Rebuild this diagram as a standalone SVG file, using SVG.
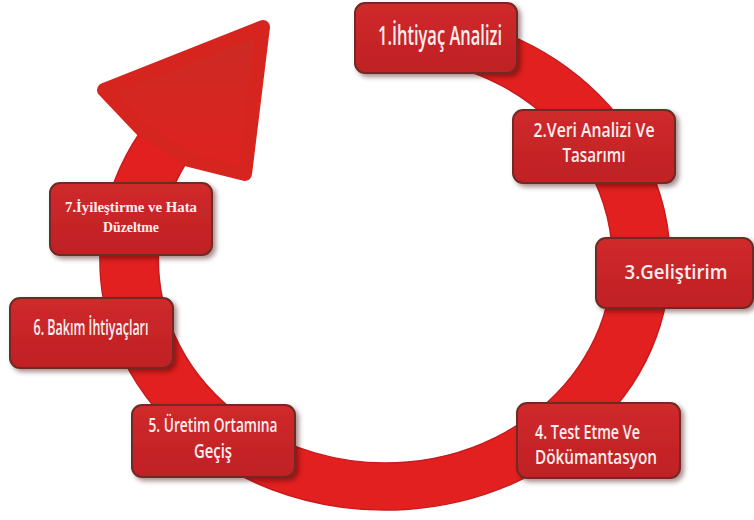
<svg xmlns="http://www.w3.org/2000/svg" width="754" height="520" viewBox="0 0 754 520">
  <defs>
    <linearGradient id="boxFill" x1="0" y1="0" x2="0" y2="1">
      <stop offset="0" stop-color="#d02a2c"/>
      <stop offset="1" stop-color="#bf2024"/>
    </linearGradient>
    <linearGradient id="headFill" x1="0" y1="0" x2="0" y2="1">
      <stop offset="0" stop-color="#cc2b24"/>
      <stop offset="1" stop-color="#df2220"/>
    </linearGradient>
    <filter id="shadow" x="-10%" y="-10%" width="125%" height="135%">
      <feDropShadow dx="3" dy="3" stdDeviation="2.5" flood-color="#3a1010" flood-opacity="0.45"/>
    </filter>
    <style>
      .box { fill: url(#boxFill); stroke: #6f2c25; stroke-width: 2; filter: url(#shadow); }
      .lbl { fill: #fbeeee; font-family: "Open Sans", "Noto Sans", "Liberation Sans", sans-serif; font-weight: 600; text-anchor: middle; }
      .lbl-left { text-anchor: start; }
      .serif { fill: #fbeeee; font-family: "Liberation Serif", "DejaVu Serif", serif; text-anchor: middle; }
      .ring { fill: #e2201f; stroke: #c81b1d; stroke-width: 1.5; }
      .head { fill: url(#headFill); stroke: #d6251f; stroke-width: 14; stroke-linejoin: round; }
    </style>
  </defs>

  <!-- cycle ring with arrowhead -->
  <g id="connectors">
    <path class="ring" d="M 375 10.2 A 285 250 0 1 1 140 132.3 L 186 163 A 227 203 0 1 0 375 57.2 Z"/>
    <polygon class="head" points="141,129 104,90 263,27 245,174 189,160"/>
  </g>

  <g id="step1">
    <rect class="box" x="355" y="3" width="162" height="70" rx="10"/>
    <text class="lbl" x="440" y="45" font-size="27" textLength="124" lengthAdjust="spacingAndGlyphs">1.İhtiyaç Analizi</text>
  </g>

  <g id="step2">
    <rect class="box" x="513" y="110" width="162" height="73" rx="10"/>
    <text class="lbl" x="594" y="137" font-size="19" textLength="121" lengthAdjust="spacingAndGlyphs">2.Veri Analizi Ve</text>
    <text class="lbl" x="594" y="162" font-size="19" textLength="63" lengthAdjust="spacingAndGlyphs">Tasarımı</text>
  </g>

  <g id="step3">
    <rect class="box" x="596" y="238" width="157" height="70" rx="10"/>
    <text class="lbl" x="676" y="279" font-size="20" textLength="103" lengthAdjust="spacingAndGlyphs">3.Geliştirim</text>
  </g>

  <g id="step4">
    <rect class="box" x="517" y="403" width="163" height="75" rx="10"/>
    <text class="lbl lbl-left" x="535" y="439" font-size="19" textLength="105" lengthAdjust="spacingAndGlyphs">4. Test Etme Ve</text>
    <text class="lbl lbl-left" x="535" y="464" font-size="19" textLength="122" lengthAdjust="spacingAndGlyphs">Dökümantasyon</text>
  </g>

  <g id="step5">
    <rect class="box" x="132" y="405" width="163" height="72" rx="10"/>
    <text class="lbl" x="213" y="432" font-size="19" textLength="129" lengthAdjust="spacingAndGlyphs">5. Üretim Ortamına</text>
    <text class="lbl" x="213" y="458" font-size="19" textLength="38" lengthAdjust="spacingAndGlyphs">Geçiş</text>
  </g>

  <g id="step6">
    <rect class="box" x="10" y="298" width="163" height="70" rx="10"/>
    <text class="lbl" x="91" y="335" font-size="21" textLength="115" lengthAdjust="spacingAndGlyphs">6. Bakım İhtiyaçları</text>
  </g>

  <g id="step7">
    <rect class="box" x="50" y="183" width="162" height="72" rx="10"/>
    <text class="serif" x="131" y="212" font-size="15" font-weight="bold" textLength="132" lengthAdjust="spacingAndGlyphs">7.İyileştirme ve Hata</text>
    <text class="serif" x="131" y="232" font-size="15" font-weight="bold" textLength="56" lengthAdjust="spacingAndGlyphs">Düzeltme</text>
  </g>
</svg>
